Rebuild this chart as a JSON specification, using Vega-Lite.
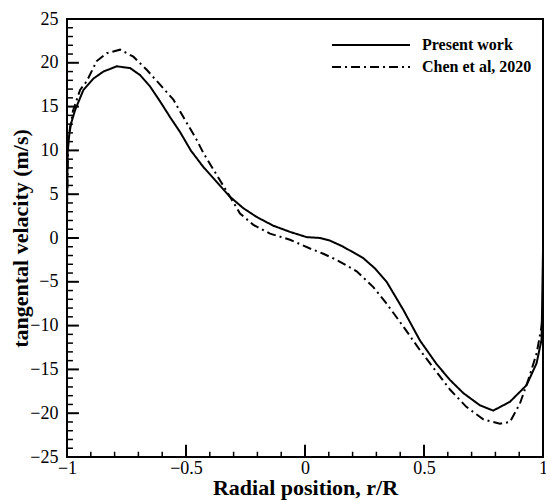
{
  "$schema": "https://vega.github.io/schema/vega-lite/v6.json",
  "width": 476,
  "height": 438,
  "autosize": "none",
  "padding": {"left": 67, "top": 19, "right": 3, "bottom": 43},
  "background": "white",
  "config": {
    "view": {"stroke": "black", "strokeWidth": 2},
    "font": "Liberation Serif",
    "axis": {"grid": false, "domain": false, "ticks": false, "tickSize": 0, "labelFont": "Liberation Serif", "titleFont": "Liberation Serif", "labelColor": "black", "titleColor": "black", "labelFontSize": 18, "labelFlush": false, "titleFontSize": 22, "titleFontWeight": "bold"}
  },
  "datasets": {
    "curves": [
      {"r": -1.0, "v": 3.5, "series": "Present work"},
      {"r": -0.997, "v": 10.0, "series": "Present work"},
      {"r": -0.987, "v": 12.7, "series": "Present work"},
      {"r": -0.966, "v": 14.6, "series": "Present work"},
      {"r": -0.931, "v": 16.9, "series": "Present work"},
      {"r": -0.889, "v": 18.2, "series": "Present work"},
      {"r": -0.847, "v": 19.0, "series": "Present work"},
      {"r": -0.791, "v": 19.6, "series": "Present work"},
      {"r": -0.735, "v": 19.4, "series": "Present work"},
      {"r": -0.693, "v": 18.6, "series": "Present work"},
      {"r": -0.651, "v": 17.3, "series": "Present work"},
      {"r": -0.609, "v": 15.6, "series": "Present work"},
      {"r": -0.567, "v": 13.8, "series": "Present work"},
      {"r": -0.525, "v": 12.1, "series": "Present work"},
      {"r": -0.48, "v": 10.0, "series": "Present work"},
      {"r": -0.427, "v": 8.1, "series": "Present work"},
      {"r": -0.371, "v": 6.4, "series": "Present work"},
      {"r": -0.315, "v": 4.7, "series": "Present work"},
      {"r": -0.259, "v": 3.4, "series": "Present work"},
      {"r": -0.203, "v": 2.4, "series": "Present work"},
      {"r": -0.133, "v": 1.4, "series": "Present work"},
      {"r": -0.063, "v": 0.7, "series": "Present work"},
      {"r": 0.007, "v": 0.1, "series": "Present work"},
      {"r": 0.063, "v": 0.0, "series": "Present work"},
      {"r": 0.105, "v": -0.3, "series": "Present work"},
      {"r": 0.161, "v": -1.0, "series": "Present work"},
      {"r": 0.245, "v": -2.3, "series": "Present work"},
      {"r": 0.295, "v": -3.5, "series": "Present work"},
      {"r": 0.343, "v": -5.0, "series": "Present work"},
      {"r": 0.413, "v": -8.2, "series": "Present work"},
      {"r": 0.483, "v": -11.7, "series": "Present work"},
      {"r": 0.553, "v": -14.4, "series": "Present work"},
      {"r": 0.609, "v": -16.2, "series": "Present work"},
      {"r": 0.665, "v": -17.7, "series": "Present work"},
      {"r": 0.735, "v": -19.1, "series": "Present work"},
      {"r": 0.791, "v": -19.7, "series": "Present work"},
      {"r": 0.861, "v": -18.7, "series": "Present work"},
      {"r": 0.931, "v": -16.8, "series": "Present work"},
      {"r": 0.973, "v": -14.3, "series": "Present work"},
      {"r": 0.994, "v": -11.6, "series": "Present work"},
      {"r": 1.0, "v": -1.4, "series": "Present work"},
      {"r": -1.0, "v": 3.5, "series": "Chen et al, 2020"},
      {"r": -0.995, "v": 11.0, "series": "Chen et al, 2020"},
      {"r": -0.975, "v": 14.5, "series": "Chen et al, 2020"},
      {"r": -0.945, "v": 16.9, "series": "Chen et al, 2020"},
      {"r": -0.917, "v": 17.9, "series": "Chen et al, 2020"},
      {"r": -0.875, "v": 20.2, "series": "Chen et al, 2020"},
      {"r": -0.833, "v": 21.1, "series": "Chen et al, 2020"},
      {"r": -0.777, "v": 21.5, "series": "Chen et al, 2020"},
      {"r": -0.721, "v": 20.7, "series": "Chen et al, 2020"},
      {"r": -0.665, "v": 19.2, "series": "Chen et al, 2020"},
      {"r": -0.609, "v": 17.5, "series": "Chen et al, 2020"},
      {"r": -0.553, "v": 15.8, "series": "Chen et al, 2020"},
      {"r": -0.511, "v": 13.8, "series": "Chen et al, 2020"},
      {"r": -0.455, "v": 11.2, "series": "Chen et al, 2020"},
      {"r": -0.427, "v": 9.7, "series": "Chen et al, 2020"},
      {"r": -0.371, "v": 7.2, "series": "Chen et al, 2020"},
      {"r": -0.315, "v": 4.7, "series": "Chen et al, 2020"},
      {"r": -0.273, "v": 2.8, "series": "Chen et al, 2020"},
      {"r": -0.217, "v": 1.5, "series": "Chen et al, 2020"},
      {"r": -0.147, "v": 0.5, "series": "Chen et al, 2020"},
      {"r": -0.063, "v": -0.2, "series": "Chen et al, 2020"},
      {"r": 0.021, "v": -1.2, "series": "Chen et al, 2020"},
      {"r": 0.077, "v": -1.8, "series": "Chen et al, 2020"},
      {"r": 0.133, "v": -2.5, "series": "Chen et al, 2020"},
      {"r": 0.217, "v": -3.8, "series": "Chen et al, 2020"},
      {"r": 0.287, "v": -5.6, "series": "Chen et al, 2020"},
      {"r": 0.343, "v": -7.5, "series": "Chen et al, 2020"},
      {"r": 0.413, "v": -10.1, "series": "Chen et al, 2020"},
      {"r": 0.483, "v": -12.8, "series": "Chen et al, 2020"},
      {"r": 0.553, "v": -15.3, "series": "Chen et al, 2020"},
      {"r": 0.609, "v": -17.3, "series": "Chen et al, 2020"},
      {"r": 0.679, "v": -19.3, "series": "Chen et al, 2020"},
      {"r": 0.749, "v": -20.7, "series": "Chen et al, 2020"},
      {"r": 0.819, "v": -21.2, "series": "Chen et al, 2020"},
      {"r": 0.861, "v": -21.0, "series": "Chen et al, 2020"},
      {"r": 0.903, "v": -18.9, "series": "Chen et al, 2020"},
      {"r": 0.938, "v": -16.2, "series": "Chen et al, 2020"},
      {"r": 0.973, "v": -13.2, "series": "Chen et al, 2020"},
      {"r": 0.994, "v": -10.1, "series": "Chen et al, 2020"},
      {"r": 1.0, "v": -8.0, "series": "Chen et al, 2020"}
    ],
    "yMajor": [{"t": -20}, {"t": -15}, {"t": -10}, {"t": -5}, {"t": 0}, {"t": 5}, {"t": 10}, {"t": 15}, {"t": 20}],
    "yMinor": [{"t": -24}, {"t": -23}, {"t": -22}, {"t": -21}, {"t": -19}, {"t": -18}, {"t": -17}, {"t": -16}, {"t": -14}, {"t": -13}, {"t": -12}, {"t": -11}, {"t": -9}, {"t": -8}, {"t": -7}, {"t": -6}, {"t": -4}, {"t": -3}, {"t": -2}, {"t": -1}, {"t": 1}, {"t": 2}, {"t": 3}, {"t": 4}, {"t": 6}, {"t": 7}, {"t": 8}, {"t": 9}, {"t": 11}, {"t": 12}, {"t": 13}, {"t": 14}, {"t": 16}, {"t": 17}, {"t": 18}, {"t": 19}, {"t": 21}, {"t": 22}, {"t": 23}, {"t": 24}],
    "xMajor": [{"t": -0.5}, {"t": 0}, {"t": 0.5}],
    "xMinor": [{"t": -0.9}, {"t": -0.8}, {"t": -0.7}, {"t": -0.6}, {"t": -0.4}, {"t": -0.3}, {"t": -0.2}, {"t": -0.1}, {"t": 0.1}, {"t": 0.2}, {"t": 0.3}, {"t": 0.4}, {"t": 0.6}, {"t": 0.7}, {"t": 0.8}, {"t": 0.9}]
  },
  "resolve": {"axis": {"x": "independent", "y": "independent"}},
  "layer": [
    {
      "data": {"name": "yMajor"},
      "mark": {"type": "rule", "color": "black", "strokeWidth": 2, "opacity": 1},
      "encoding": {
        "y": {"field": "t", "type": "quantitative", "axis": null},
        "x": {"datum": -1, "type": "quantitative", "axis": null},
        "x2": {"datum": -0.95}
      }
    },
    {
      "data": {"name": "yMinor"},
      "mark": {"type": "rule", "color": "black", "strokeWidth": 1.5, "opacity": 1},
      "encoding": {
        "y": {"field": "t", "type": "quantitative", "axis": null},
        "x": {"datum": -1, "type": "quantitative", "axis": null},
        "x2": {"datum": -0.975}
      }
    },
    {
      "data": {"name": "xMajor"},
      "mark": {"type": "rule", "color": "black", "strokeWidth": 2, "opacity": 1},
      "encoding": {
        "x": {"field": "t", "type": "quantitative", "axis": null},
        "y": {"datum": -25, "type": "quantitative", "axis": null},
        "y2": {"datum": -23.6}
      }
    },
    {
      "data": {"name": "xMinor"},
      "mark": {"type": "rule", "color": "black", "strokeWidth": 1.5, "opacity": 1},
      "encoding": {
        "x": {"field": "t", "type": "quantitative", "axis": null},
        "y": {"datum": -25, "type": "quantitative", "axis": null},
        "y2": {"datum": -24.4}
      }
    },
    {
      "data": {"name": "curves"},
      "mark": {"type": "line", "color": "black", "strokeWidth": 2, "clip": true},
      "encoding": {
        "x": {"field": "r", "type": "quantitative", "scale": {"domain": [-1, 1], "nice": false, "zero": false},
          "axis": {"orient": "bottom", "values": [-1, -0.5, 0, 0.5, 1], "format": "~g", "labelPadding": 2, "title": "Radial position, r/R", "titlePadding": 0}},
        "y": {"field": "v", "type": "quantitative", "scale": {"domain": [-25, 25], "nice": false, "zero": false},
          "axis": {"orient": "left", "values": [-25, -20, -15, -10, -5, 0, 5, 10, 15, 20, 25], "labelPadding": 9, "title": "tangental velacity (m/s)", "titlePadding": -3}},
        "strokeDash": {"field": "series", "type": "nominal",
          "scale": {"domain": ["Present work", "Chen et al, 2020"], "range": [[1, 0], [9, 4, 2, 4]]},
          "legend": {"title": null, "orient": "none", "legendX": 293, "legendY": 15, "rowPadding": 3, "symbolType": "M-4,0H4", "symbolSize": 380, "symbolStrokeWidth": 2, "symbolStrokeColor": "black", "symbolFillColor": "transparent", "labelFont": "Liberation Serif", "labelFontWeight": "bold", "labelFontSize": 16, "labelColor": "black", "labelOffset": 40}}
      }
    }
  ]
}
